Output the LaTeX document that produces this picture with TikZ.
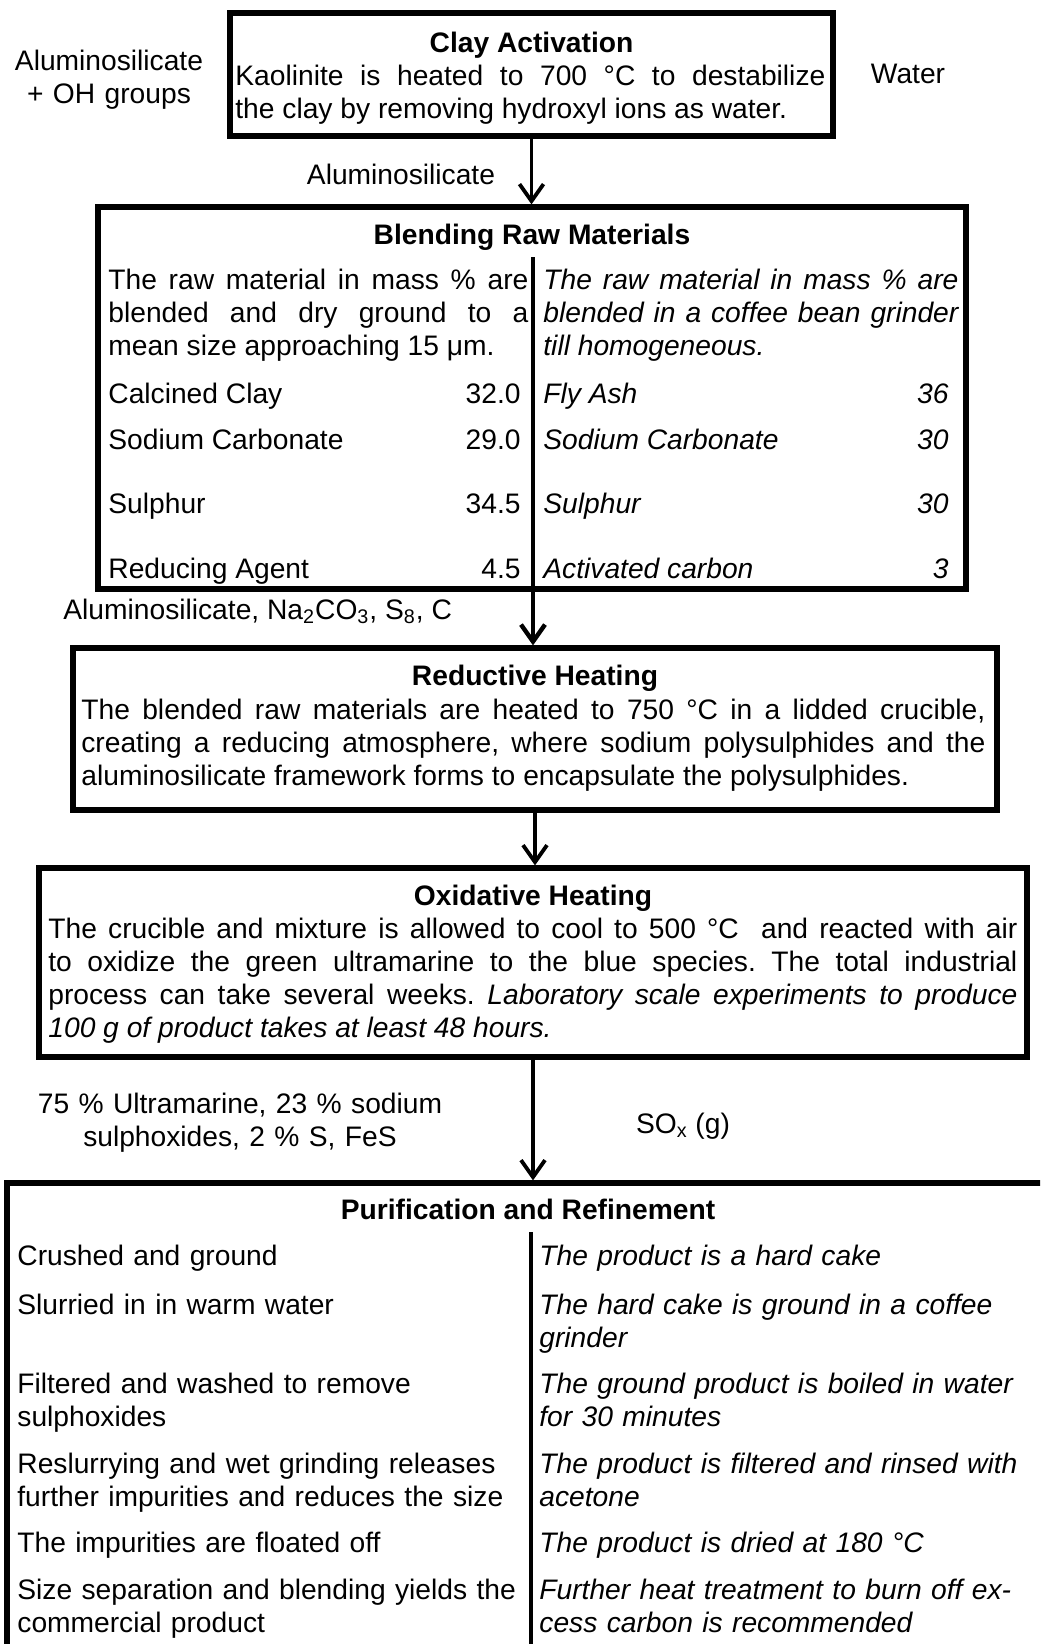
\documentclass[tikz,border=0pt]{standalone}
\usepackage{fontspec}
\setmainfont{Liberation Sans}
\usetikzlibrary{arrows.meta}
\frenchspacing

\begin{document}
\begin{tikzpicture}[x=0.5pt, y=-0.5pt,
  box/.style={draw, line width=2.6pt, inner sep=0pt},
  txt/.style={inner sep=0pt, font=\fontsize{14.1}{16.5}\selectfont},
  ittxt/.style={inner sep=0pt, font=\fontsize{14.1}{16.5}\selectfont\itshape},
  head/.style={inner sep=0pt, font=\fontsize{14.1}{16.5}\selectfont\bfseries, anchor=base},
  para/.style={txt, anchor=base west, align=justify, text width=#1},
  lines/.style={txt, anchor=base west, align=left, text width=#1},
  itlines/.style={ittxt, anchor=base west, align=left, text width=#1},
  arr/.style={line width=1.9pt, -{Straight Barb[length=8.5pt,width=12pt]}}]
\path[use as bounding box] (0,0) rectangle (1040,1644);
\clip (0,0) rectangle (1040,1644);

% boxes
\node[box, minimum width=301.5pt, minimum height=61.5pt] (clay) at (531.5,74.5) {};
\node[box, minimum width=434pt, minimum height=191pt] (blend) at (532,398) {};
\node[box, minimum width=462pt, minimum height=81pt] (reduct) at (535,729) {};
\node[box, minimum width=494pt, minimum height=94.5pt] (oxid) at (533,962.5) {};
\node[box, minimum width=546.5pt, minimum height=258.5pt] (purif) at (553.5,1441.5) {};

% clay activation
\node[head] (claytitle) at (531.5,52) {Clay Activation};
\node[para=295pt] (claytext) at (235,85) {Kaolinite is heated to 700 °C to destabilize\linebreak the clay by removing hydroxyl ions as water.};
\node[txt, anchor=base, align=center, text width=100pt] (clayin) at (109,70) {Aluminosilicate\\+ OH groups};
\node[txt, anchor=base] (clayout) at (908,83) {Water};
\node[txt, anchor=base] (alsi) at (401,184) {Aluminosilicate};

% blending
\node[head] (blendtitle) at (532,244) {Blending Raw Materials};
\node[para=210pt] (blendleft) at (108,289) {The raw material in mass \% are\linebreak blended and dry ground to a\linebreak mean size approaching 15 μm.};
\node[para=207.5pt, font=\fontsize{14.1}{16.5}\selectfont\itshape] (blendright) at (543,289) {The raw material in mass \% are\linebreak blended in a coffee bean grinder\linebreak till homogeneous.};
\foreach \y/\name/\val/\alt/\altval in {403/Calcined Clay/32.0/Fly Ash/36,
    449/Sodium Carbonate/29.0/Sodium Carbonate/30,
    513/Sulphur/34.5/Sulphur/30,
    578/Reducing Agent/4.5/Activated carbon/3} {
  \node[txt, anchor=base west] (l\y) at (108,\y) {\name};
  \node[txt, anchor=base east] (lv\y) at (521,\y) {\val};
  \node[ittxt, anchor=base west] (r\y) at (543,\y) {\alt};
  \node[ittxt, anchor=base east] (rv\y) at (949,\y) {\altval};
}
\node[txt, anchor=base west] (mix) at (63,619) {Aluminosilicate, Na\textsubscript{2}CO\textsubscript{3}, S\textsubscript{8}, C};

% reductive heating
\node[head] (reducttitle) at (535,685) {Reductive Heating};
\node[para=452pt] (reducttext) at (81,719) {The blended raw materials are heated to 750 °C in a lidded crucible,\linebreak creating a reducing atmosphere, where sodium polysulphides and the\linebreak aluminosilicate framework forms to encapsulate the polysulphides.};

% oxidative heating
\node[head] (oxidtitle) at (533,905) {Oxidative Heating};
\node[para=484.5pt] (oxidtext) at (48,938) {The crucible and mixture is allowed to cool to 500 °C~ and reacted with air\linebreak to oxidize the green ultramarine to the blue species. The total industrial\linebreak process can take several weeks. \textit{Laboratory scale experiments to produce\linebreak 100 g of product takes at least 48 hours.}};
\node[txt, anchor=base, align=center, text width=220pt] (product) at (240,1113) {75 \% Ultramarine, 23 \% sodium\\sulphoxides, 2 \% S, FeS};
\node[txt, anchor=base] (gas) at (683,1133) {SO\textsubscript{x} (g)};

% purification and refinement
\node[head] (puriftitle) at (528,1219) {Purification and Refinement};
\node[lines=255pt] (p1) at (17,1265) {Crushed and ground};
\node[lines=255pt] (p2) at (17,1314) {Slurried in in warm water};
\node[lines=255pt] (p3) at (17,1393) {Filtered and washed to remove\\sulphoxides};
\node[lines=255pt] (p4) at (17,1473) {Reslurrying and wet grinding releases\\further impurities and reduces the size};
\node[lines=255pt] (p5) at (17,1552) {The impurities are floated off};
\node[lines=255pt] (p6) at (17,1599) {Size separation and blending yields the\\commercial product};
\node[itlines=245pt] (q1) at (539,1265) {The product is a hard cake};
\node[itlines=245pt] (q2) at (539,1314) {The hard cake is ground in a coffee\\grinder};
\node[itlines=245pt] (q3) at (539,1393) {The ground product is boiled in water\\for 30 minutes};
\node[itlines=245pt] (q4) at (539,1473) {The product is filtered and rinsed with\\acetone};
\node[itlines=245pt] (q5) at (539,1552) {The product is dried at 180 °C};
\node[itlines=245pt] (q6) at (539,1599) {Further heat treatment to burn off ex-\\cess carbon is recommended};

% dividers and arrows
\coordinate (bdiv) at (533,257);
\coordinate (pdiv) at (531,1232);
\path[draw,arr] (clay.south) -- (clay.south |- blend.north);
\path[draw,arr,line width=2.2pt] (bdiv) -- (bdiv |- reduct.north);
\path[draw,arr] (reduct.south) -- (reduct.south |- oxid.north);
\path[draw,arr] (oxid.south) -- (oxid.south |- purif.north);
\path[draw,line width=2.2pt] (pdiv) -- (pdiv |- purif.south);
\end{tikzpicture}
\end{document}
